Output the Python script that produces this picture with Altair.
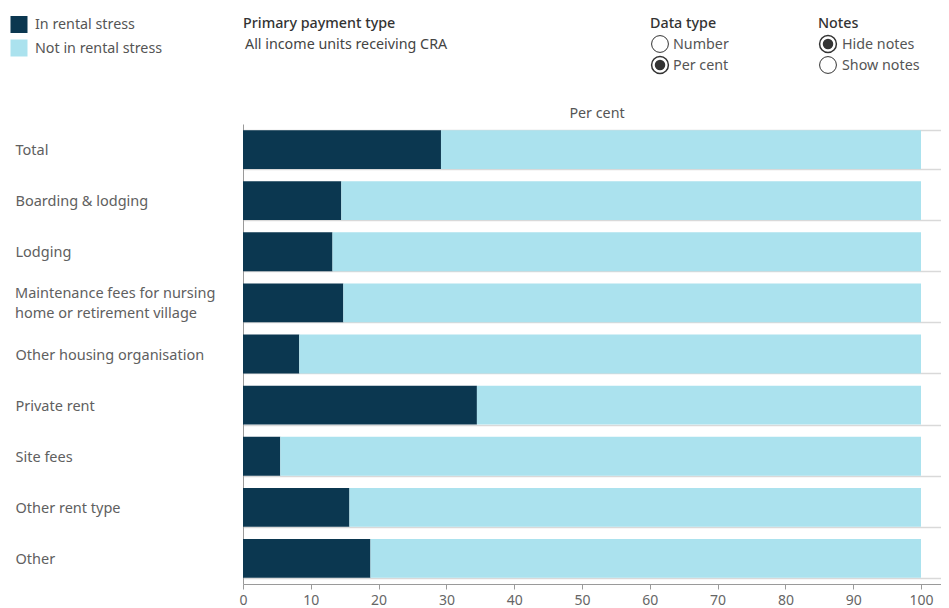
import altair as alt
import pandas as pd

categories = [
    "Total",
    "Boarding & lodging",
    "Lodging",
    "Maintenance fees for nursing|home or retirement village",
    "Other housing organisation",
    "Private rent",
    "Site fees",
    "Other rent type",
    "Other",
]
in_stress = [29.2, 14.5, 13.2, 14.8, 8.3, 34.5, 5.5, 15.7, 18.8]
not_in_stress = [70.8, 85.5, 86.8, 85.2, 91.7, 65.5, 94.5, 84.3, 81.2]
series = ["In rental stress", "Not in rental stress"]
colors = ["#0b3750", "#abe2ee"]
x_ticks = [0, 10, 20, 30, 40, 50, 60, 70, 80, 90, 100]

FONT = "Noto Sans"
FS = 14.3

rows = []
for i, c in enumerate(categories):
    rows.append({"cat": c, "series": series[0], "order": 0, "value": in_stress[i]})
    rows.append({"cat": c, "series": series[1], "order": 1, "value": not_in_stress[i]})
df = pd.DataFrame(rows)

W, H = 698, 460

bars = alt.Chart(df).mark_bar().encode(
    y=alt.Y("cat:N", sort=categories,
            scale=alt.Scale(paddingInner=0.24, paddingOuter=0.12),
            axis=alt.Axis(title=None, ticks=False, labelAlign="left", labelPadding=228,
                          labelExpr="indexof(datum.label, '|') >= 0 ? '' : datum.label",
                          labelFont=FONT, labelFontSize=14.5, labelColor="#606060",
                          labelOffset=1, labelLimit=300,
                          grid=True, tickBand="extent", gridColor="#d9d9d9", gridWidth=1.5,
                          domain=True, domainColor="#9a9a9a", domainWidth=1)),
    x=alt.X("value:Q", stack="zero",
            scale=alt.Scale(domain=[0, 102.95], nice=False, zero=True),
            axis=alt.Axis(title=None, values=x_ticks, grid=False, tickSize=5, tickColor="#9a9a9a",
                          domainColor="#9a9a9a", labelFont=FONT, labelFontSize=14,
                          labelColor="#666666", labelPadding=4, labelFlush=False)),
    color=alt.Color("series:N", scale=alt.Scale(domain=series, range=colors), legend=None),
    order=alt.Order("order:Q"),
)

multi = alt.Chart(pd.DataFrame({"cat": [c for c in categories if "|" in c]})).mark_text(
    align="left", baseline="middle", lineBreak="|", lineHeight=20, dy=-9,
    font=FONT, fontSize=14.5, color="#606060",
).encode(y=alt.Y("cat:N", sort=categories), x=alt.value(-228), text="cat:N")


def txt(s, x, y, size=FS, color="#555555", weight="normal", align="left"):
    return alt.Chart(pd.DataFrame({"t": [s]})).mark_text(
        align=align, baseline="middle", font=FONT, fontSize=size, color=color, fontWeight=weight
    ).encode(text="t:N", x=alt.value(x), y=alt.value(y))


def dot(x, y, size, fill, stroke, sw):
    return alt.Chart(pd.DataFrame({"a": [0]})).mark_point(
        shape="circle", size=size, filled=False, fill=fill, stroke=stroke, strokeWidth=sw, opacity=1
    ).encode(x=alt.value(x), y=alt.value(y))


def sq(x, y, color):
    return alt.Chart(pd.DataFrame({"a": [0]})).mark_square(size=289, color=color, opacity=1).encode(
        x=alt.value(x), y=alt.value(y))


header = [
    sq(-224, -99.5, colors[0]),
    sq(-224, -76, colors[1]),
    txt(series[0], -208, -99),
    txt(series[1], -208, -75),
    txt("Primary payment type", 0, -100, color="#333333", weight=500),
    txt("All income units receiving CRA", 2, -79, color="#444444"),
    txt("Data type", 407, -100, color="#333333", weight=500),
    txt("Notes", 575, -100, color="#333333", weight=500),
    dot(417, -80, 283, "white", "#333333", 1),
    dot(417, -59, 283, "white", "#333333", 1.5),
    dot(417, -59, 110, "#333333", "#333333", 0),
    dot(585, -80, 283, "white", "#333333", 1.5),
    dot(585, -80, 110, "#333333", "#333333", 0),
    dot(585, -59, 283, "white", "#333333", 1),
    txt("Number", 430, -79),
    txt("Per cent", 430, -58),
    txt("Hide notes", 599, -79),
    txt("Show notes", 599, -58),
    txt("Per cent", 354, -10, align="center", color="#555555"),
]

chart = alt.layer(bars, multi, *header).properties(
    width=W, height=H,
    autosize=alt.AutoSizeParams(type="none"),
    padding={"left": 235, "top": 116, "right": 0, "bottom": 26},
).configure_view(stroke=None)

chart.save("out.html", embed_options={"renderer": "svg", "actions": False})
